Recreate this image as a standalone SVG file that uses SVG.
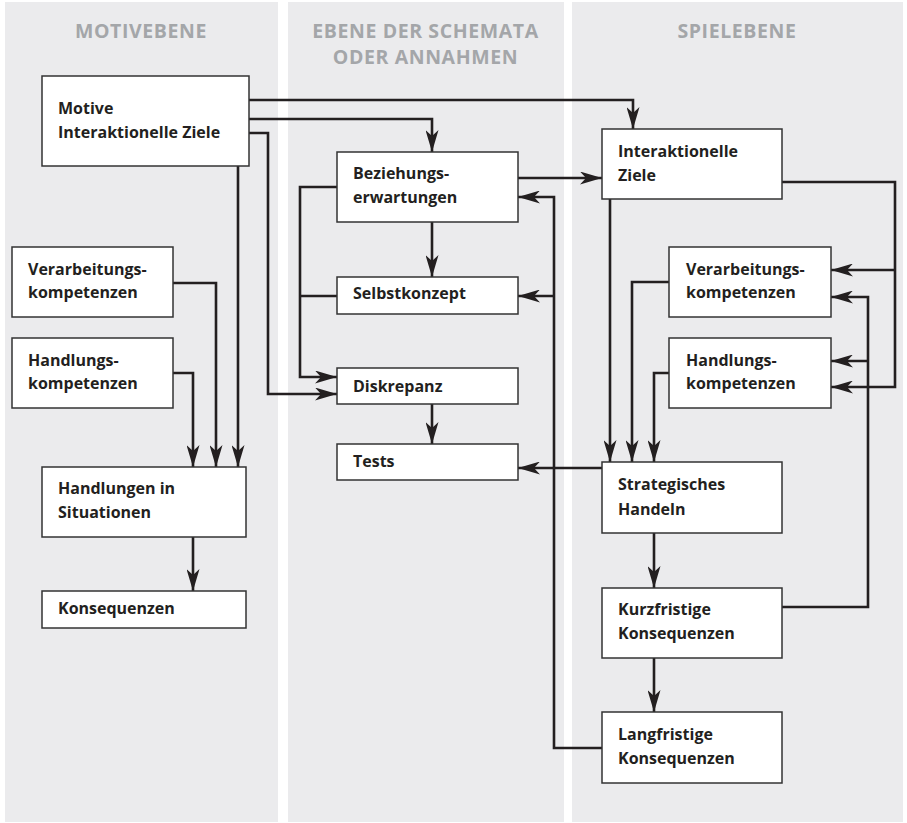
<svg xmlns="http://www.w3.org/2000/svg" width="907" height="823" viewBox="0 0 907 823">
<style>
.panel{fill:#ebebed}
.hdr{font-family:"Open Sans","Liberation Sans",sans-serif;font-weight:700;font-size:19.5px;letter-spacing:0.6px;fill:#a4a6a9;text-anchor:middle}
.box{fill:#fff;stroke:#333;stroke-width:1.5}
.lbl{font-family:"Open Sans","Liberation Sans",sans-serif;font-weight:700;font-size:16px;fill:#231f20}
.con{fill:none;stroke:#231f20;stroke-width:2.6;stroke-linejoin:miter}
.arr{marker-end:url(#ah)}
</style>
<defs>
<marker id="ah" markerUnits="userSpaceOnUse" viewBox="0 0 22 13" refX="22" refY="6.5" markerWidth="22" markerHeight="13" orient="auto">
<path d="M0,0 L22,6.5 L0,13 L6,6.5 Z" fill="#231f20"/>
</marker>
</defs>
<rect class="panel" x="5" y="2" width="273" height="820"/>
<rect class="panel" x="288" y="2" width="276" height="820"/>
<rect class="panel" x="572" y="2" width="331" height="820"/>
<text class="hdr" x="141" y="38">MOTIVEBENE</text>
<text class="hdr" x="425.5" y="38">EBENE DER SCHEMATA</text>
<text class="hdr" x="425.5" y="64">ODER ANNAHMEN</text>
<text class="hdr" x="737" y="38">SPIELEBENE</text>
<g id="connectors">
<path class="con arr" d="M249,100 H633 V129"/>
<path class="con arr" d="M249,119 H432 V152"/>
<path class="con arr" d="M249,133 H268 V394 H337"/>
<path class="con arr" d="M238,166 V467"/>
<path class="con arr" d="M173,283 H216 V467"/>
<path class="con arr" d="M173,373 H193 V467"/>
<path class="con arr" d="M193,537 V591"/>
<path class="con arr" d="M432,222 V277"/>
<path class="con arr" d="M337,187 H300 V377 H337"/>
<path class="con" d="M337,296 H300"/>
<path class="con arr" d="M432,404 V444"/>
<path class="con arr" d="M518,178 H602"/>
<path class="con arr" d="M602,748 H554 V197 H518"/>
<path class="con arr" d="M554,296 H518"/>
<path class="con arr" d="M602,468 H518"/>
<path class="con arr" d="M610,199 V462"/>
<path class="con arr" d="M782,182 H895 V387 H831"/>
<path class="con arr" d="M895,270 H831"/>
<path class="con arr" d="M669,282 H632 V462"/>
<path class="con arr" d="M669,373 H654 V462"/>
<path class="con arr" d="M654,533 V588"/>
<path class="con arr" d="M782,607 H868 V297 H831"/>
<path class="con arr" d="M868,361 H831"/>
<path class="con arr" d="M654,658 V712"/>
</g>
<g id="motive"><rect class="box" x="42" y="76" width="207" height="90"/><text class="lbl" x="58" y="114">Motive</text><text class="lbl" x="58" y="138">Interaktionelle Ziele</text></g>
<g id="verarbeitung-l"><rect class="box" x="12" y="247" width="161" height="70"/><text class="lbl" x="28" y="275">Verarbeitungs-</text><text class="lbl" x="28" y="298">kompetenzen</text></g>
<g id="handlung-l"><rect class="box" x="12" y="338" width="161" height="70"/><text class="lbl" x="28" y="366">Handlungs-</text><text class="lbl" x="28" y="389">kompetenzen</text></g>
<g id="handlungen-situationen"><rect class="box" x="42" y="467" width="204" height="70"/><text class="lbl" x="58" y="494">Handlungen in</text><text class="lbl" x="58" y="518">Situationen</text></g>
<g id="konsequenzen"><rect class="box" x="42" y="591" width="204" height="37"/><text class="lbl" x="58" y="614">Konsequenzen</text></g>
<g id="beziehung"><rect class="box" x="337" y="152" width="181" height="70"/><text class="lbl" x="353" y="179">Beziehungs-</text><text class="lbl" x="353" y="203">erwartungen</text></g>
<g id="selbstkonzept"><rect class="box" x="337" y="277" width="181" height="37"/><text class="lbl" x="353" y="299">Selbstkonzept</text></g>
<g id="diskrepanz"><rect class="box" x="337" y="368" width="181" height="36"/><text class="lbl" x="353" y="392">Diskrepanz</text></g>
<g id="tests"><rect class="box" x="337" y="444" width="181" height="36"/><text class="lbl" x="353" y="467">Tests</text></g>
<g id="interaktionelle-ziele"><rect class="box" x="602" y="129" width="180" height="70"/><text class="lbl" x="618" y="157">Interaktionelle</text><text class="lbl" x="618" y="181">Ziele</text></g>
<g id="verarbeitung-r"><rect class="box" x="669" y="247" width="162" height="70"/><text class="lbl" x="686" y="275">Verarbeitungs-</text><text class="lbl" x="686" y="298">kompetenzen</text></g>
<g id="handlung-r"><rect class="box" x="669" y="338" width="162" height="70"/><text class="lbl" x="686" y="366">Handlungs-</text><text class="lbl" x="686" y="389">kompetenzen</text></g>
<g id="strategisches-handeln"><rect class="box" x="602" y="462" width="180" height="71"/><text class="lbl" x="618" y="490">Strategisches</text><text class="lbl" x="618" y="515">Handeln</text></g>
<g id="kurzfristige"><rect class="box" x="602" y="588" width="180" height="70"/><text class="lbl" x="618" y="615">Kurzfristige</text><text class="lbl" x="618" y="639">Konsequenzen</text></g>
<g id="langfristige"><rect class="box" x="602" y="712" width="180" height="71"/><text class="lbl" x="618" y="740">Langfristige</text><text class="lbl" x="618" y="764">Konsequenzen</text></g>
</svg>
